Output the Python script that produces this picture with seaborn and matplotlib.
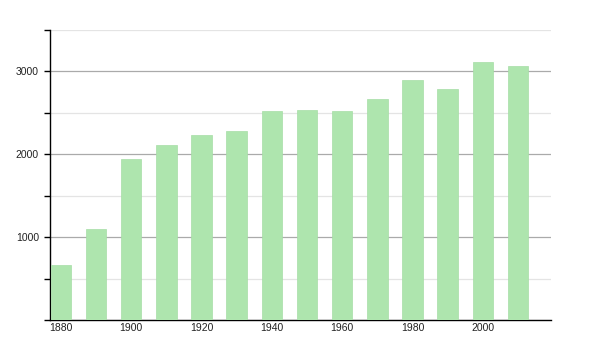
import matplotlib
matplotlib.use("Agg")
import matplotlib.pyplot as plt
from matplotlib.ticker import MultipleLocator
import seaborn as sns
import pandas as pd

years = [1880, 1890, 1900, 1910, 1920, 1930, 1940, 1950, 1960, 1970, 1980, 1990, 2000, 2010]
population = [670, 1100, 1940, 2110, 2230, 2280, 2520, 2530, 2520, 2665, 2895, 2785, 3115, 3065]
year_labels = ["1880", "", "1900", "", "1920", "", "1940", "", "1960", "", "1980", "", "2000", ""]

sns.set_theme(style="white")
plt.rcParams['font.family'] = ['Liberation Sans', 'DejaVu Sans']

df = pd.DataFrame({"year": [str(y) for y in years], "pop": population})

fig = plt.figure(figsize=(6, 3.5), dpi=100)
ax = fig.add_axes([50/600, 1-320.4/350, 501/600, 290.4/350])

sns.barplot(data=df, x="year", y="pop", color="#aee5ae", saturation=1,
            width=0.58, edgecolor="#a6dda6", linewidth=0.5, ax=ax, zorder=3)

ax.set_xlim(-0.31, 13.94)
ax.set_ylim(0, 3500)
ax.yaxis.set_major_locator(MultipleLocator(1000))
ax.yaxis.set_minor_locator(MultipleLocator(500))
ax.set_yticks([1000, 2000, 3000])
ax.set_yticklabels(["1000", "2000", "3000"])
ax.set_xticks(range(len(years)))
ax.set_xticklabels(year_labels)

ax.grid(which="major", axis="y", color="#aaaaaa", linewidth=0.9, zorder=0)
ax.grid(which="minor", axis="y", color="#e4e4e4", linewidth=0.9, zorder=0)
ax.set_axisbelow(True)

for s in ["top", "right"]:
    ax.spines[s].set_visible(False)
for s in ["left", "bottom"]:
    ax.spines[s].set_color("black")
    ax.spines[s].set_linewidth(1.0)

ax.tick_params(axis="y", which="both", left=True, length=4, width=1, color="black",
               labelsize=7.5, pad=4, labelcolor="#222222")
ax.tick_params(axis="x", which="both", bottom=False, length=0, labelsize=7.5, pad=2,
               labelcolor="#222222")
ax.set_xlabel("")
ax.set_ylabel("")

fig.savefig("out.png", dpi=100)
